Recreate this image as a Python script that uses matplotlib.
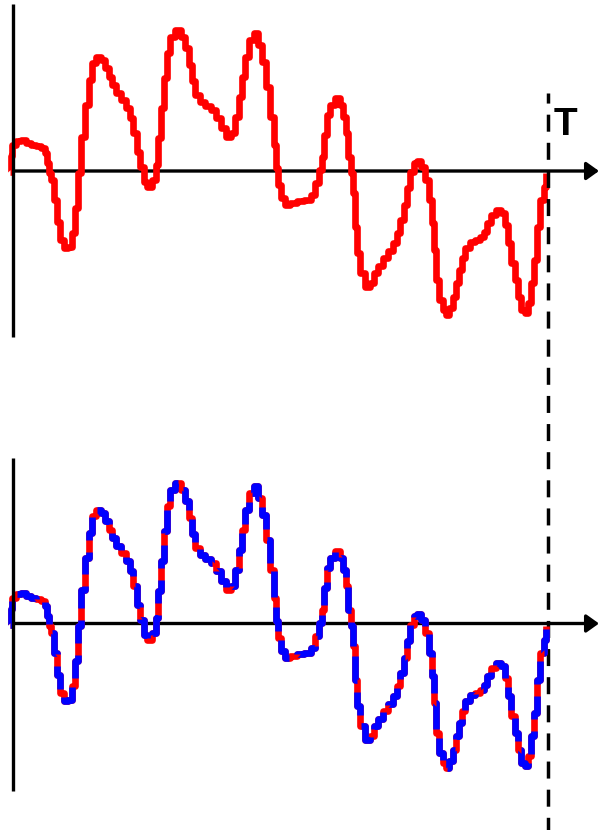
import matplotlib
matplotlib.use("Agg")
import matplotlib.pyplot as plt

# signal samples (time, amplitude) in arbitrary units
t = [0, 1, 3, 8, 13, 18, 23, 28, 33, 36,
     38, 40, 42, 45, 48, 52, 55, 60, 63, 66,
     69, 73, 77, 80, 83, 88, 93, 97, 101, 103,
     108, 113, 118, 121, 125, 128, 132, 135, 139, 144,
     147, 149, 152, 156, 158, 162, 168, 173, 177, 180,
     183, 187, 192, 198, 203, 208, 213, 218, 223, 227,
     230, 233, 237, 241, 246, 250, 254, 257, 262, 265,
     267, 269, 273, 277, 283, 290, 298, 303, 307, 310,
     313, 315, 318, 322, 327, 332, 334, 337, 339, 342,
     343, 346, 348, 352, 357, 362, 365, 370, 375, 380,
     385, 388, 392, 395, 398, 402, 405, 409, 413, 417,
     420, 423, 425, 427, 431, 434, 437, 441, 444, 447,
     450, 453, 457, 462, 467, 472, 475, 478, 483, 488,
     493, 496, 499, 503, 506, 509, 513, 516, 519, 523,
     525, 528, 532, 535, 536]
signal = [-1, 15, 26, 30, 31, 28, 26, 25, 23, 18,
          8, -2, -9, -29, -51, -69, -77, -76, -62, -37,
          -2, 34, 66, 91, 108, 114, 111, 103, 94, 86,
          78, 71, 63, 53, 38, 19, 4, -11, -16, -9,
          6, 33, 63, 93, 118, 134, 141, 134, 123, 106,
          90, 76, 69, 65, 61, 53, 43, 34, 38, 54,
          74, 94, 114, 131, 138, 126, 109, 84, 54, 26,
          3, -14, -27, -34, -32, -30, -29, -24, -12, 1,
          14, 36, 56, 66, 73, 66, 54, 38, 14, -2,
          -22, -56, -82, -102, -116, -112, -102, -95, -87, -80,
          -72, -62, -49, -34, -17, -1, 8, 10, 4, -9,
          -29, -52, -79, -109, -129, -139, -144, -137, -126, -112,
          -99, -87, -77, -71, -69, -66, -61, -52, -44, -39,
          -42, -54, -72, -92, -109, -126, -139, -142, -132, -112,
          -89, -56, -29, -16, -2]
T_end = 537.5
T_label = "T"

RED = "#ff0000"
BLUE = "#0000ff"
BLACK = "#000000"

fig = plt.figure(figsize=(5.99, 8.30), dpi=100)
H = 830.0
ax_top = fig.add_axes([0, 490 / H, 1, 340 / H])
ax_bot = fig.add_axes([0, 0, 1, 490 / H])
for ax in (ax_top, ax_bot):
    ax.set_axis_off()
    ax.set_xlim(-10, 589)
ax_top.set_ylim(-169, 171)
ax_bot.set_ylim(-206.5, 283.5)

curve_lw = 4.8
axis_lw = 2.4

def draw_axes(ax, ytop, ybot):
    ax.plot([3, 3], [ytop, ybot], color=BLACK, lw=axis_lw, zorder=4,
            solid_capstyle="butt", clip_on=False)
    ax.annotate("", xy=(589, 0), xytext=(3, 0), annotation_clip=False,
                arrowprops=dict(arrowstyle="-|>,head_length=0.42,head_width=0.3",
                                mutation_scale=18, lw=axis_lw, color=BLACK,
                                shrinkA=0, shrinkB=0), zorder=2)

draw_axes(ax_top, 167, -166)
draw_axes(ax_bot, 165.5, -167.5)

# top panel: red signal
ax_top.plot(t, signal, color=RED, lw=curve_lw, drawstyle="steps-mid",
            solid_joinstyle="round", solid_capstyle="butt", zorder=3)

# bottom panel: red signal with blue dashed overlay
ax_bot.plot(t, signal, color=RED, lw=curve_lw, drawstyle="steps-mid",
            solid_joinstyle="round", solid_capstyle="butt", zorder=3)
ax_bot.plot(t, signal, color=BLUE, lw=curve_lw, drawstyle="steps-mid",
            linestyle=(0, (3.9, 1.8)), dash_capstyle="butt",
            dash_joinstyle="round", zorder=3.5)

# dashed vertical line at T spanning both panels
ax_top.plot([T_end, T_end], [78, -659], color=BLACK, lw=2.5,
            linestyle=(2.0, (4.9, 3.2)), dash_capstyle="butt",
            clip_on=False, zorder=5)
ax_top.text(544, 36, T_label, fontsize=28, fontweight="bold",
            family=["Liberation Sans", "DejaVu Sans"], ha="left", va="baseline",
            color=BLACK)

fig.savefig("out.png", dpi=100)
